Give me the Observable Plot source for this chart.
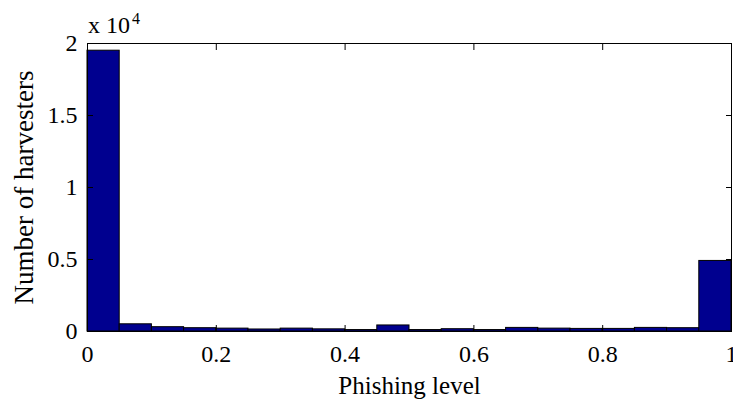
<!DOCTYPE html>
<html>
<head>
<meta charset="utf-8">
<script src="https://cdn.jsdelivr.net/npm/d3@7"></script>
<script src="https://cdn.jsdelivr.net/npm/@observablehq/plot@0.6"></script>
<style>
html,body{margin:0;padding:0;background:#fff;}
</style>
</head>
<body>
<div id="chart"></div>
<script>
// Histogram of phishing level: 20 bins in [0,1]; raw counts
const binStarts = [0,0.05,0.1,0.15,0.2,0.25,0.3,0.35,0.4,0.45,0.5,0.55,0.6,0.65,0.7,0.75,0.8,0.85,0.9,0.95];
const counts = [19500,500,300,230,200,140,200,150,100,420,100,160,100,250,200,180,180,250,230,4900];
const xTicks = [0,0.2,0.4,0.6,0.8,1];
const yTicks = [0,0.5,1,1.5,2];
const xTickLabels = ["0","0.2","0.4","0.6","0.8","1"];
const yTickLabels = ["0","0.5","1","1.5","2"];

const binWidth = 0.05;
const data = binStarts.map((s,i)=>({x1:s, x2:s+binWidth, y:counts[i]/1e4}));

const font = "'Liberation Serif', 'Times New Roman', serif";

const chart = Plot.plot({
  width: 733,
  height: 399,
  marginLeft: 87,
  marginRight: 2,
  marginTop: 43,
  marginBottom: 68,
  style: {fontFamily: font, fontSize: "24px", background: "#fff", color: "black"},
  x: {domain: [0,1]},
  y: {domain: [0,2]},
  marks: [
    Plot.rectY(data, {x1:"x1", x2:"x2", y:"y", fill:"#00008F", stroke:"black", strokeWidth:1, inset:0}),
    Plot.frame({stroke:"black", strokeWidth:1}),
    Plot.axisX({anchor:"bottom", ticks:xTicks, tickSize:-6, tickPadding:19, tickFormat:(d,i)=>xTickLabels[i], label:null, fontSize:24}),
    Plot.axisX({anchor:"top", ticks:xTicks, tickSize:-6, tickFormat:()=>"", label:null}),
    Plot.axisY({anchor:"left", ticks:yTicks, tickSize:-6, tickPadding:16, tickFormat:(d,i)=>yTickLabels[i], label:null, fontSize:24}),
    Plot.axisY({anchor:"right", ticks:yTicks, tickSize:-6, tickFormat:()=>"", label:null}),
    Plot.text(["Phishing level"], {frameAnchor:"bottom", lineAnchor:"middle", dy:54, fontSize:25, textAnchor:"middle", text:d=>d}),
    Plot.text(["Number of harvesters"], {frameAnchor:"left", lineAnchor:"middle", dx:-63, rotate:-90, fontSize:27, textAnchor:"middle", text:d=>d})
  ]
});
document.getElementById("chart").appendChild(chart);

// "x 10^4" multiplier label above the y-axis
const svg = d3.select(chart);
const t = svg.append("text")
  .attr("x", 88).attr("y", 33)
  .attr("text-anchor", "start")
  .attr("font-family", font).attr("font-size", 24).attr("fill","black");
t.append("tspan").text("x 10");
t.append("tspan").attr("dy", -9).attr("dx", 2).attr("font-size", 16).text("4");
</script>
</body>
</html>
